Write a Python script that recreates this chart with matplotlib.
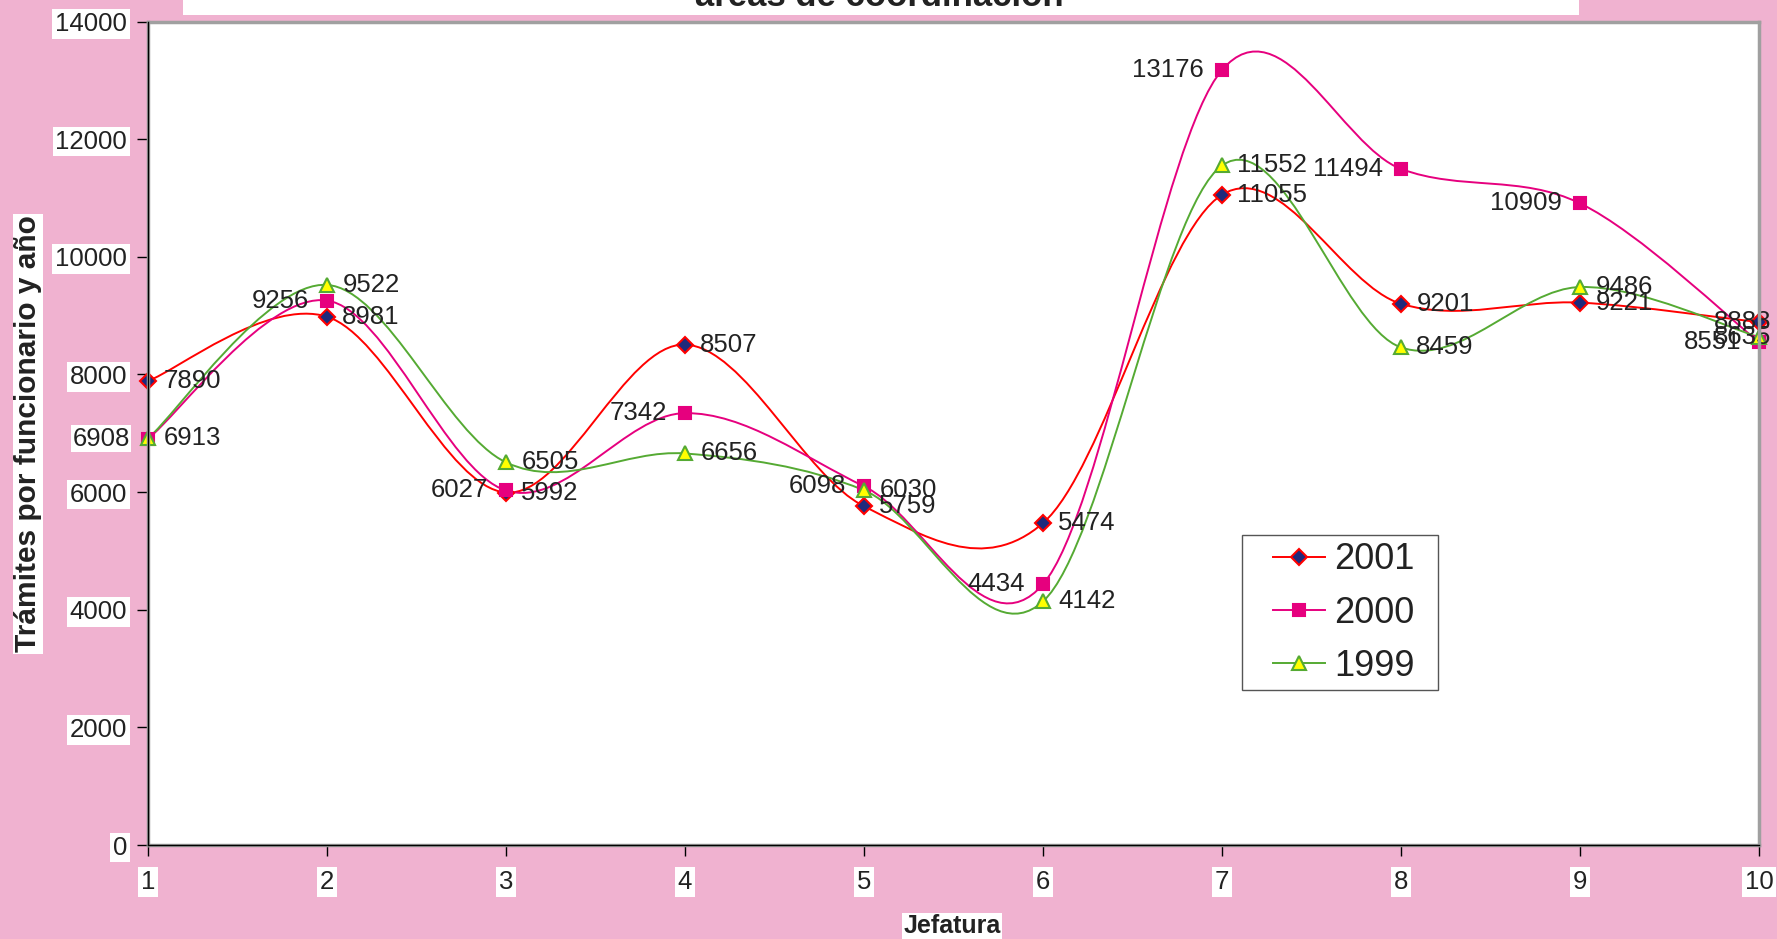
"""Trámites por funcionario y año, por jefatura (1999-2001)."""

from __future__ import annotations

import matplotlib

matplotlib.use("Agg")

import matplotlib.pyplot as plt
from matplotlib import font_manager
from matplotlib.lines import Line2D
from matplotlib.patches import PathPatch, Rectangle
from matplotlib.path import Path

# ───────────────────────── data ──────────────────────────

JEFATURAS = [1, 2, 3, 4, 5, 6, 7, 8, 9, 10]

Y2001 = [7890, 8981, 5992, 8507, 5759, 5474, 11055, 9201, 9221, 8888]
Y2000 = [6908, 9256, 6027, 7342, 6098, 4434, 13176, 11494, 10909, 8551]
Y1999 = [6913, 9522, 6505, 6656, 6030, 4142, 11552, 8459, 9486, 8635]

SERIES_NAMES = ["2001", "2000", "1999"]
Y_TICKS = [0, 2000, 4000, 6000, 8000, 10000, 12000, 14000]

TITLE = "áreas de coordinación"
X_LABEL = "Jefatura"
Y_LABEL = "Trámites por funcionario y año"

# ───────────────────────── style ─────────────────────────

PINK = "#F0B2D0"
RED = "#FF0000"
MAGENTA = "#E6007E"
GREEN = "#55AA33"
INK = "#222222"

installed = {f.name for f in font_manager.fontManager.ttflist}
BASE_FONT = "Liberation Sans" if "Liberation Sans" in installed else "DejaVu Sans"
NARROW_FONT = "Liberation Sans Narrow" if "Liberation Sans Narrow" in installed else BASE_FONT

plt.rcParams["font.family"] = [BASE_FONT, "DejaVu Sans"]

STYLES = [
    # line colour, marker, face, edge, size, side of the data label
    dict(color=RED, marker="D", mfc="#1F2A7C", mec=RED, ms=8, side="right"),
    dict(color=MAGENTA, marker="s", mfc=MAGENTA, mec=MAGENTA, ms=9, side="left"),
    dict(color=GREEN, marker="^", mfc="#FFFF00", mec=GREEN, ms=10, side="right"),
]


def smooth_path(xs, ys) -> Path:
    """Excel-like smoothed line: cubic Bezier pieces through every point."""
    n = len(xs)
    verts = [(xs[0], ys[0])]
    codes = [Path.MOVETO]
    for i in range(n - 1):
        p0 = (xs[max(i - 1, 0)], ys[max(i - 1, 0)])
        p1 = (xs[i], ys[i])
        p2 = (xs[i + 1], ys[i + 1])
        p3 = (xs[min(i + 2, n - 1)], ys[min(i + 2, n - 1)])
        c1 = (p1[0] + (p2[0] - p0[0]) / 6, p1[1] + (p2[1] - p0[1]) / 6)
        c2 = (p2[0] - (p3[0] - p1[0]) / 6, p2[1] - (p3[1] - p1[1]) / 6)
        verts += [c1, c2, p2]
        codes += [Path.CURVE4] * 3
    return Path(verts, codes)


def main() -> None:
    fig = plt.figure(figsize=(17.77, 9.39), dpi=100, facecolor=PINK)
    ax = fig.add_axes([0.0833, 0.1001, 0.9066, 0.8770], facecolor="white")

    # cut-off title box at the very top
    fig.patches.append(
        Rectangle((183 / 1777, 1 - 15 / 939), (1579 - 183) / 1777, 0.05,
                  transform=fig.transFigure, facecolor="white", edgecolor="none")
    )
    fig.text(879 / 1777, 1 - 6 / 939, TITLE, ha="center", va="baseline",
             fontsize=25, fontweight="bold", color=INK)

    handles = []
    for k, (ys, st) in enumerate(zip([Y2001, Y2000, Y1999], STYLES)):
        ax.add_patch(PathPatch(smooth_path(JEFATURAS, ys), fill=False,
                               edgecolor=st["color"], lw=1.4, zorder=2 + k))
        ax.plot(JEFATURAS, ys, linestyle="none", marker=st["marker"],
                ms=st["ms"], mfc=st["mfc"], mec=st["mec"], mew=1.5,
                zorder=5 + k, clip_on=False)
        for x, v in zip(JEFATURAS, ys):
            if st["side"] == "left":
                dx, ha = -13, "right"
            elif x == JEFATURAS[-1]:
                dx, ha = 9, "right"
            else:
                dx, ha = 11, "left"
            txt = ax.annotate(f"{v}", (x, v), xytext=(dx, 0), textcoords="offset points",
                              ha=ha, va="center", fontsize=18.5, color=INK,
                              zorder=10, annotation_clip=False)
            if x == JEFATURAS[0] and st["side"] == "left":
                txt.set_bbox(dict(facecolor="white", edgecolor="none", pad=1))
        handles.append(Line2D([], [], color=st["color"], lw=1.4, marker=st["marker"],
                              ms=st["ms"], mfc=st["mfc"], mec=st["mec"], mew=1.5))

    ax.set_xlim(1, 10)
    ax.set_ylim(0, 14000)
    ax.set_xticks(JEFATURAS, labels=[str(j) for j in JEFATURAS])
    ax.set_yticks(Y_TICKS, labels=[str(t) for t in Y_TICKS])
    ax.tick_params(axis="both", direction="out", length=8, width=1, color="black",
                   labelsize=18.5, labelcolor=INK)
    ax.tick_params(axis="x", pad=10)
    ax.tick_params(axis="y", pad=7)
    for lbl in ax.get_xticklabels() + ax.get_yticklabels():
        lbl.set_bbox(dict(facecolor="white", edgecolor="none", pad=2))

    for sp in ax.spines.values():
        sp.set_color("#A0A0A0")
        sp.set_linewidth(2.5)
        sp.set_zorder(20)
    ax.plot([0, 0], [0, 1], transform=ax.transAxes, color="black", lw=1, clip_on=False, zorder=21)
    ax.plot([0, 1], [0, 0], transform=ax.transAxes, color="black", lw=1, clip_on=False, zorder=21)

    # legend: frame drawn by hand so the inner padding can match
    ax.add_patch(Rectangle((0.679, 0.188), 0.122, 0.188, transform=ax.transAxes,
                           facecolor="white", edgecolor="#555555", lw=1, zorder=29))
    leg = ax.legend(handles, SERIES_NAMES, loc="center left", bbox_to_anchor=(0.698, 0.2817),
                    borderaxespad=0, borderpad=0, fontsize=26, frameon=False,
                    handlelength=1.45, handletextpad=0.25, labelspacing=0.5)
    for t in leg.get_texts():
        t.set_color(INK)
    leg.set_zorder(30)

    fig.text(28 / 1777, 1 - 434 / 939, Y_LABEL, rotation=90, ha="center", va="center",
             fontsize=21.5, fontweight="bold", family=[NARROW_FONT, "DejaVu Sans"],
             color=INK, bbox=dict(facecolor="white", edgecolor="none", pad=1))
    fig.text(952 / 1777, 1 - 926 / 939, X_LABEL, ha="center", va="center",
             fontsize=18, fontweight="bold", color=INK,
             bbox=dict(facecolor="white", edgecolor="none", pad=1))

    fig.savefig("out.png", dpi=100, facecolor=PINK)


if __name__ == "__main__":
    main()
